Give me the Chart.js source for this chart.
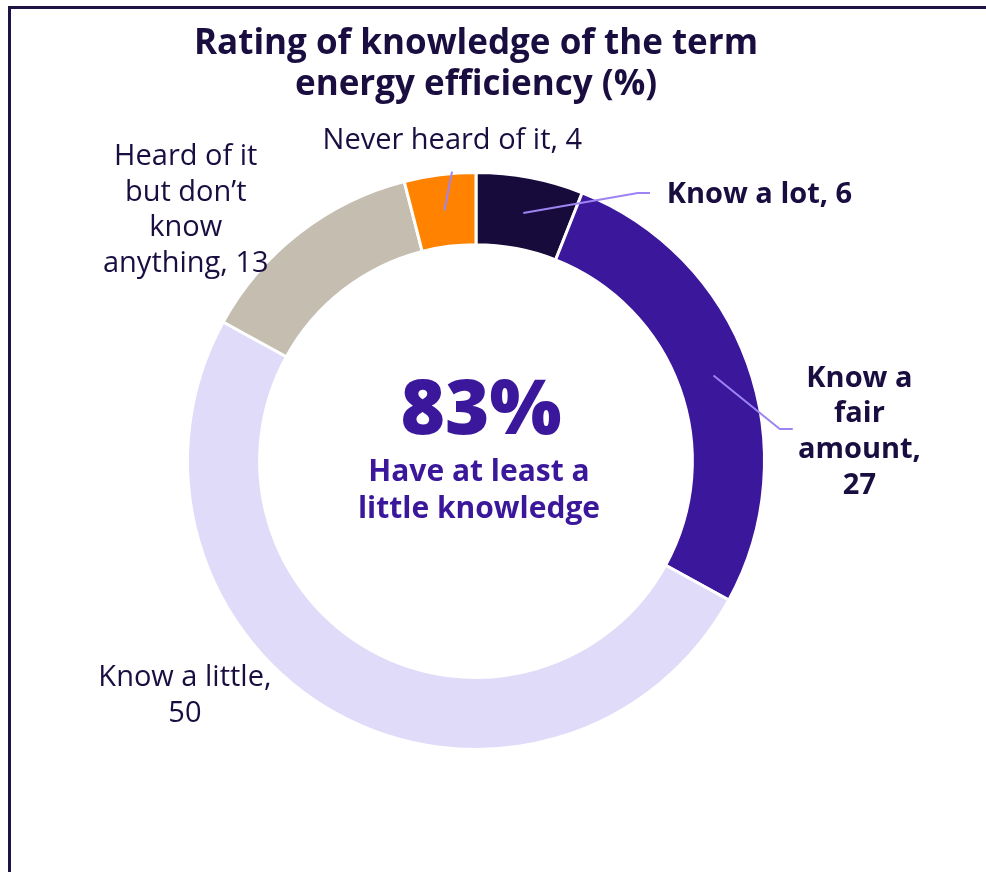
<!DOCTYPE html>
<html><head><meta charset="utf-8">
<script src="https://cdn.jsdelivr.net/npm/chart.js@4.4.0/dist/chart.umd.min.js"></script>
<style>html,body{margin:0;padding:0;background:#fff}#wrap{width:986px;height:872px;position:relative}</style>
</head><body><div id="wrap"><canvas id="c" width="986" height="872"></canvas></div>
<script>
// ---- data ----
const categories = ["Know a lot", "Know a fair amount", "Know a little", "Heard of it but don’t know anything", "Never heard of it"];
const values = [6, 27, 50, 13, 4];
const colors = ["#170b3b", "#3a179b", "#e0dbf8", "#c4bdb0", "#ff8300"];
const knowledgeIdx = [0, 1, 2]; // "have at least a little knowledge"
const centerCaption = ["Have at least a", "little knowledge"];
const titleLines = ["Rating of knowledge of the term", "energy efficiency (%)"];

// ---- label layout (relative to doughnut centre, in units of outer radius) ----
const labelWrap = [["Know a lot"], ["Know a", "fair", "amount"], ["Know a little"], ["Heard of it", "but don’t", "know", "anything"], ["Never heard of it"]];
const valueOwnLine = [false, true, true, false, false];
const labelBold = [true, true, false, false, false];
const labelAlign = ["left", "center", "center", "center", "center"];
const labelPos = [[0.661, -0.929], [1.329, -0.108], [-1.009, 0.807], [-1.006, -0.876], [-0.082, -1.116]];
const leaderPts = [[[0.561, -0.929], [0.603, -0.929]], [[1.053, -0.111], [1.098, -0.111]], null, null, [[-0.083, -1.003]]];

const TEXT = "#1a0e40", ACCENT = "#3a179b", LEADER = "#9d84f2", FRAME = "#1e1247";
const FONT = "'Open Sans', 'DejaVu Sans', sans-serif";

function buildLines(i) {
  const lines = labelWrap[i].slice();
  if (valueOwnLine[i]) { lines[lines.length - 1] += ","; lines.push(String(values[i])); }
  else lines[lines.length - 1] += ", " + values[i];
  return lines;
}

const framePlugin = {
  id: 'frame',
  beforeDraw(chart) {
    const ctx = chart.ctx;
    ctx.save();
    ctx.fillStyle = '#fff';
    ctx.fillRect(0, 0, chart.width, chart.height);
    ctx.strokeStyle = FRAME; ctx.lineWidth = 3;
    ctx.beginPath(); ctx.moveTo(9.5, chart.height); ctx.lineTo(9.5, 7.5); ctx.lineTo(chart.width, 7.5); ctx.stroke();
    ctx.restore();
  }
};

const labelPlugin = {
  id: 'labels',
  afterDatasetsDraw(chart) {
    const ctx = chart.ctx;
    const meta = chart.getDatasetMeta(0);
    const p = meta.data[0].getProps(['x', 'y', 'outerRadius'], true);
    const cx = p.x, cy = p.y, R = p.outerRadius;
    ctx.save();
    // leader lines
    ctx.strokeStyle = LEADER; ctx.lineWidth = 2; ctx.lineJoin = 'round';
    meta.data.forEach((arc, i) => {
      if (!leaderPts[i]) return;
      const s = arc.getCenterPoint(true);
      ctx.beginPath(); ctx.moveTo(s.x, s.y);
      leaderPts[i].forEach(q => ctx.lineTo(cx + q[0] * R, cy + q[1] * R));
      ctx.stroke();
    });
    // labels
    const size = 29, lh = 35.7;
    meta.data.forEach((arc, i) => {
      const lines = buildLines(i);
      ctx.font = (labelBold[i] ? '700 ' : '400 ') + size + 'px ' + FONT;
      ctx.fillStyle = TEXT;
      ctx.textAlign = labelAlign[i];
      ctx.textBaseline = 'alphabetic';
      const x = cx + labelPos[i][0] * R, yc = cy + labelPos[i][1] * R;
      lines.forEach((t, k) => {
        const y = yc + (k - (lines.length - 1) / 2) * lh + 0.357 * size;
        ctx.fillText(t, x, y);
      });
    });
    // centre text
    const pct = knowledgeIdx.reduce((a, i) => a + values[i], 0);
    ctx.fillStyle = ACCENT; ctx.textAlign = 'center';
    ctx.font = '800 76px ' + FONT;
    ctx.fillText(pct + '%', cx + 5, cy - 54 + 0.357 * 76);
    ctx.font = '700 30px ' + FONT;
    centerCaption.forEach((t, k) => ctx.fillText(t, cx + 3, cy + 9.5 + k * 37 + 0.357 * 30));
    ctx.restore();
  }
};

new Chart(document.getElementById('c'), {
  type: 'doughnut',
  data: {
    labels: categories,
    datasets: [{ data: values, backgroundColor: colors, borderColor: '#ffffff', borderWidth: 3, hoverOffset: 0 }]
  },
  options: {
    responsive: false,
    animation: false,
    events: [],
    cutout: '75%',
    layout: { padding: { left: 186, right: 220, top: 0, bottom: 121 } },
    plugins: {
      legend: { display: false },
      tooltip: { enabled: false },
      title: {
        display: true,
        text: titleLines,
        color: TEXT,
        font: { family: FONT, size: 35, weight: '700', lineHeight: 41 / 35 },
        padding: { top: 24, bottom: 65 }
      }
    }
  },
  plugins: [framePlugin, labelPlugin]
});
</script></body></html>
